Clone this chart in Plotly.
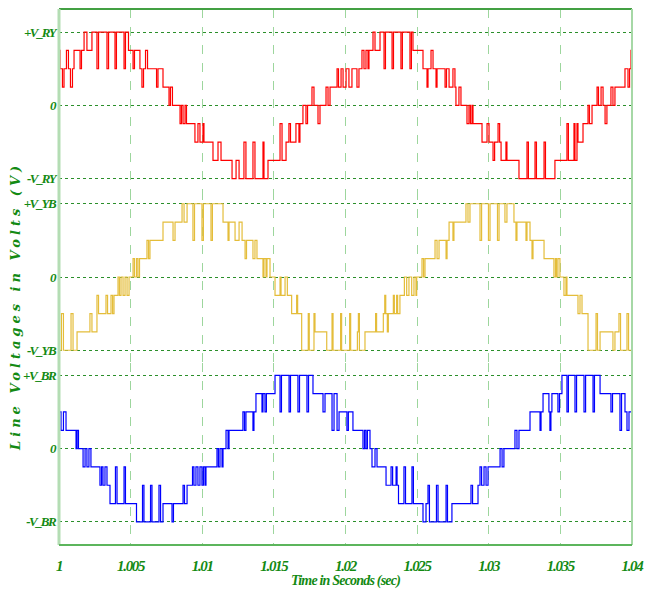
import plotly.graph_objects as go
from plotly.subplots import make_subplots

# ---- time axis -------------------------------------------------------------
t_start = 1.0
t_end = 1.04
x_tickvals = [1.0, 1.005, 1.01, 1.015, 1.02, 1.025, 1.03, 1.035, 1.04]
x_ticktext = ["1", "1.005", "1.01", "1.015", "1.02", "1.025", "1.03", "1.035", "1.04"]

# ---- y tick labels per panel (-V, 0, +V) -----------------------------------
ry_ticks = ["-V_RY", "0", "+V_RY"]
yb_ticks = ["-V_YB", "0", "+V_YB"]
br_ticks = ["-V_BR", "0", "+V_BR"]

# Number of voltage steps between 0 and the peak line voltage
levels_per_v = 4

# ---- line voltage switching steps: (time after 1 s in ms, level) ------------
red_steps = [
    (0.00, 3), (0.07, 2), (0.24, 1), (0.35, 2), (0.52, 3), (0.66, 2), (0.80, 1), (0.94, 2),
    (1.05, 3), (1.47, 2), (1.57, 3), (1.75, 4), (1.95, 3), (2.30, 4), (2.65, 2), (2.76, 4),
    (3.35, 2), (3.46, 4), (3.91, 2), (4.01, 4), (4.54, 2), (4.64, 4), (4.85, 3), (5.17, 2),
    (5.27, 3), (5.65, 2), (5.79, 1), (5.90, 2), (6.04, 3), (6.18, 2), (6.81, 1), (6.91, 2),
    (7.26, 1), (7.68, 0), (7.78, 1), (7.92, 0), (8.45, -1), (8.55, 0), (8.66, -1), (8.80, 0),
    (8.90, -1), (9.49, -2), (9.70, -1), (9.84, -2), (10.05, -1), (10.12, -2), (10.75, -3),
    (11.10, -2), (11.31, -3), (12.08, -4), (12.36, -3), (12.57, -4), (12.91, -2), (13.05, -4),
    (13.54, -2), (13.68, -4), (14.24, -2), (14.31, -4), (14.59, -3), (15.43, -1), (15.57, -3),
    (15.85, -2), (16.05, -1), (16.16, -2), (16.54, -1), (16.75, -2), (16.82, -1), (17.03, 0),
    (17.24, -1), (17.35, 0), (17.66, 1), (17.80, 0), (18.08, -1), (18.22, 0), (18.64, 1),
    (18.78, 0), (18.92, 1), (19.41, 2), (19.51, 1), (19.69, 2), (19.83, 1), (20.04, 2),
    (20.24, 1), (20.45, 2), (20.80, 1), (20.94, 2), (21.15, 3), (21.29, 2), (21.43, 3),
    (21.57, 2), (21.64, 3), (21.92, 4), (22.06, 3), (22.41, 4), (22.69, 2), (22.79, 4),
    (23.25, 2), (23.35, 4), (23.87, 2), (23.97, 4), (24.50, 2), (24.60, 4), (24.71, 3),
    (25.41, 2), (25.69, 1), (25.76, 2), (25.97, 3), (26.11, 2), (26.32, 1), (26.39, 2),
    (26.95, 1), (27.05, 2), (27.23, 1), (27.50, 2), (27.64, 1), (27.71, 0), (27.92, 1),
    (28.06, 0), (28.48, -1), (28.62, 0), (28.72, -1), (28.83, 0), (28.90, -1), (29.53, -2),
    (29.88, -1), (30.02, -2), (30.30, -3), (30.41, -2), (30.65, -1), (30.76, -2), (30.86, -3),
    (31.20, -2), (31.27, -3), (32.11, -4), (32.67, -2), (32.77, -4), (33.23, -2), (33.33, -4),
    (33.86, -2), (33.96, -4), (34.62, -3), (35.46, -1), (35.56, -3), (35.95, -1), (36.02, -3),
    (36.16, -1), (36.23, -2), (36.58, -1), (36.93, 0), (37.03, -1), (37.21, 0), (37.56, 1),
    (37.66, 0), (37.84, 1), (37.98, 0), (38.12, -1), (38.25, 0), (38.53, 1), (38.67, 0),
    (38.81, 1), (39.51, 2), (39.72, 1), (39.83, 2), (39.93, 3),
]

yellow_steps = [
    (0.00, -4), (0.17, -2), (0.31, -4), (0.84, -2), (0.98, -4), (1.26, -3), (2.16, -2),
    (2.30, -3), (2.65, -1), (2.76, -2), (3.28, -1), (3.39, -2), (3.63, -1), (3.74, -2),
    (3.84, -1), (4.12, 0), (4.22, -1), (4.33, 0), (4.47, -1), (4.61, 0), (4.75, -1), (4.89, 0),
    (5.17, 1), (5.27, 0), (5.41, 1), (5.51, 0), (5.62, 1), (6.14, 2), (6.25, 1), (6.35, 2),
    (7.26, 3), (7.96, 2), (8.10, 3), (8.59, 4), (8.73, 3), (8.94, 4), (9.35, 2), (9.46, 4),
    (9.98, 2), (10.08, 4), (10.61, 2), (10.71, 4), (11.45, 3), (11.80, 2), (11.87, 3),
    (12.29, 2), (12.57, 3), (12.78, 2), (12.99, 1), (13.09, 2), (13.54, 1), (13.68, 2),
    (13.82, 1), (14.24, 0), (14.31, 1), (14.45, 0), (14.52, 1), (14.73, 0), (15.08, -1),
    (15.43, 0), (15.50, -1), (15.78, 0), (15.94, -1), (16.24, -2), (16.59, -1), (16.66, -2),
    (16.94, -4), (17.40, -2), (17.47, -4), (17.80, -2), (17.87, -3), (18.69, -4), (19.06, -2),
    (19.13, -4), (19.66, -2), (19.73, -4), (20.29, -2), (20.36, -4), (20.83, -3), (20.90, -2),
    (20.97, -4), (21.36, -3), (22.10, -2), (22.17, -3), (22.64, -2), (22.74, -1), (22.81, -2),
    (22.92, -3), (22.99, -2), (23.34, -1), (23.41, -2), (23.57, -1), (23.64, -2), (23.80, -1),
    (24.11, 0), (24.27, -1), (24.43, 0), (24.62, -1), (24.78, 0), (24.92, -1), (24.97, 0),
    (25.34, 1), (25.45, 0), (25.55, 1), (26.25, 2), (26.39, 1), (26.53, 2), (27.02, 1),
    (27.09, 2), (27.23, 3), (27.50, 2), (27.57, 3), (28.41, 4), (28.55, 3), (28.69, 4),
    (29.39, 2), (29.50, 4), (29.98, 2), (30.09, 4), (30.61, 2), (30.72, 4), (31.13, 3),
    (31.27, 4), (31.76, 3), (31.90, 2), (31.97, 3), (32.60, 2), (32.67, 3), (32.88, 2),
    (33.02, 1), (33.09, 2), (33.86, 1), (34.55, 0), (34.66, 1), (34.73, 0), (34.83, 1),
    (34.97, 0), (35.25, -1), (35.39, 0), (35.46, -1), (36.23, -2), (36.37, -1), (36.51, -2),
    (36.93, -4), (37.49, -2), (37.59, -4), (37.77, -3), (38.67, -4), (38.81, -3), (39.09, -2),
    (39.20, -4), (39.65, -2), (39.76, -4),
]

blue_steps = [
    (0.00, 2), (0.14, 1), (0.31, 2), (0.49, 1), (1.19, 0), (1.26, 1), (1.36, 0), (1.68, -1),
    (1.82, 0), (1.95, -1), (2.09, 0), (2.23, -1), (2.86, -2), (2.97, -1), (3.07, -2),
    (3.21, -1), (3.35, -2), (3.56, -3), (3.94, -1), (4.05, -3), (4.54, -1), (4.64, -3),
    (5.41, -4), (5.83, -2), (5.93, -4), (6.39, -2), (6.49, -4), (6.98, -2), (7.09, -4),
    (7.26, -3), (7.89, -4), (7.99, -3), (8.66, -2), (8.76, -3), (8.94, -2), (9.32, -1),
    (9.42, -2), (9.56, -1), (9.70, -2), (9.84, -1), (9.98, -2), (10.08, -1), (10.19, -2),
    (10.26, -1), (11.03, 0), (11.13, -1), (11.24, 0), (11.38, -1), (11.45, 0), (11.66, 1),
    (11.80, 0), (11.87, 1), (12.84, 2), (12.95, 1), (13.05, 2), (13.54, 1), (13.61, 2),
    (13.75, 3), (14.17, 2), (14.24, 3), (14.38, 2), (14.48, 3), (15.08, 4), (15.43, 2),
    (15.53, 4), (16.06, 2), (16.16, 4), (16.68, 2), (16.79, 4), (17.31, 2), (17.42, 4),
    (17.73, 3), (18.43, 2), (18.57, 3), (19.06, 1), (19.20, 3), (19.41, 1), (19.55, 2),
    (20.10, 1), (20.20, 2), (20.52, 1), (21.22, 0), (21.33, 1), (21.43, 0), (21.53, 1),
    (21.71, 0), (21.85, -1), (22.06, 0), (22.20, -1), (22.83, -2), (23.18, -1), (23.29, -2),
    (23.53, -1), (23.60, -2), (23.70, -3), (24.08, -1), (24.19, -3), (24.64, -1), (24.74, -3),
    (25.41, -4), (25.62, -3), (25.76, -2), (25.86, -4), (26.35, -2), (26.46, -4), (27.02, -2),
    (27.12, -4), (27.43, -3), (28.76, -2), (28.87, -3), (29.25, -2), (29.39, -1), (29.50, -2),
    (29.67, -1), (29.81, -2), (29.95, -1), (30.79, 0), (30.93, -1), (31.06, 0), (31.83, 1),
    (31.97, 0), (32.11, 1), (32.88, 2), (33.58, 1), (33.65, 2), (33.79, 3), (34.20, 2),
    (34.27, 1), (34.34, 2), (34.41, 3), (34.83, 2), (34.94, 3), (35.11, 4), (35.46, 2),
    (35.56, 4), (36.02, 2), (36.13, 4), (36.65, 2), (36.76, 4), (37.28, 2), (37.38, 4),
    (37.77, 3), (38.53, 2), (38.64, 3), (39.16, 1), (39.27, 3), (39.51, 2), (39.65, 1),
    (39.79, 2),
]


def step_series(steps):
    """Convert (ms, level) switching steps into time [s] and per-unit voltage."""
    t = [t_start + ms / 1000.0 for ms, _ in steps] + [t_end]
    v = [lv / levels_per_v for _, lv in steps] + [steps[-1][1] / levels_per_v]
    return t, v


def spaced(label, spacing):
    """Text with adjusted letter spacing."""
    return f'<span style="letter-spacing:{spacing}px">{label}</span>'


GREEN_TXT = "#138a13"
GRID_H = "#2b8f2b"
GRID_V = "#9dd69d"

fig = make_subplots(rows=3, cols=1, shared_xaxes=True, vertical_spacing=0)

panels = [
    (red_steps, "#ff0000", ry_ticks, [-1.164, 1.315], [0.661, 1.0]),
    (yellow_steps, "#e4bd3a", yb_ticks, [-1.178, 1.178], [0.339, 0.661]),
    (blue_steps, "#0000ff", br_ticks, [-1.315, 1.164], [0.0, 0.339]),
]

y_tick_font = dict(family="Liberation Serif", size=13, color=GREEN_TXT,
                   weight="bold", style="italic")
x_tick_font = dict(family="Liberation Serif", size=15, color=GREEN_TXT,
                   weight="bold", style="italic")

for i, (steps, color, yt, yr, dom) in enumerate(panels, start=1):
    t, v = step_series(steps)
    fig.add_trace(
        go.Scatter(x=t, y=v, mode="lines", line=dict(color=color, width=1.2, shape="hv"),
                   showlegend=False, hoverinfo="skip"),
        row=i, col=1,
    )
    fig.update_yaxes(
        row=i, col=1, range=yr, domain=dom,
        tickvals=[-1, 0, 1], ticktext=[spaced(s, -1.6) for s in yt], tickfont=y_tick_font,
        showgrid=True, gridcolor=GRID_H, griddash="dot", gridwidth=1,
        zeroline=False, showline=False, ticks="", ticklabelstandoff=3,
    )
    fig.update_xaxes(
        row=i, col=1, range=[t_start, t_end],
        tickvals=x_tickvals, ticktext=[spaced(s, -1.3) for s in x_ticktext], tickfont=x_tick_font,
        showgrid=True, gridcolor=GRID_V, griddash="dash", gridwidth=1,
        zeroline=False, showline=False, ticks="",
        showticklabels=(i == 3), ticklabelstandoff=10,
    )

# Frame around the plotting area
frame = [
    dict(x0=0, x1=1, y0=1, y1=1, color="#43a043", width=2),
    dict(x0=0, x1=0, y0=0, y1=1, color="#b4ddb4", width=3),
    dict(x0=1, x1=1, y0=0, y1=1, color="#a6d8a6", width=2),
    dict(x0=0, x1=1, y0=0, y1=0, color="#5cb55c", width=2),
]
for f in frame:
    fig.add_shape(type="line", xref="paper", yref="paper",
                  x0=f["x0"], x1=f["x1"], y0=f["y0"], y1=f["y1"],
                  line=dict(color=f["color"], width=f["width"]))

fig.add_annotation(
    text=spaced("Line Voltages in Volts (V)", 4),
    xref="paper", yref="paper", x=-0.076, y=0.445, textangle=-90,
    showarrow=False, xanchor="center", yanchor="middle",
    font=dict(family="DejaVu Serif", size=13, color=GREEN_TXT, weight="bold", style="italic"),
)
fig.add_annotation(
    text=spaced("Time in Seconds (sec)", -0.8),
    xref="paper", yref="paper", x=0.5, y=-0.068,
    showarrow=False, xanchor="center", yanchor="middle",
    font=dict(family="Liberation Serif", size=14, color=GREEN_TXT, weight="bold", style="italic"),
)

fig.update_layout(
    width=657, height=594,
    margin=dict(l=59, r=25, t=9, b=49),
    paper_bgcolor="white", plot_bgcolor="white",
)

fig.write_html("out.html")
